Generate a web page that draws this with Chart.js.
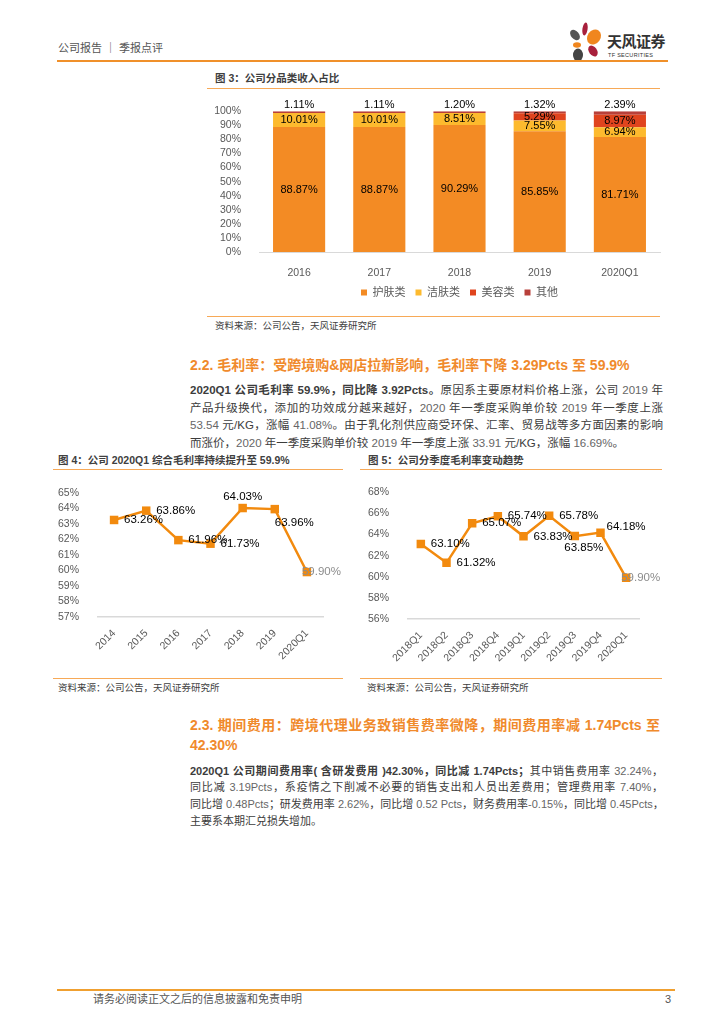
<!DOCTYPE html>
<html>
<head>
<meta charset="utf-8">
<script src="https://cdn.jsdelivr.net/npm/chart.js@4.4.0/dist/chart.umd.min.js"></script>
<style>
  body { margin: 0; background: #fff; }
  #page { position: relative; width: 724px; height: 1024px; overflow: hidden;
          font-family: "Liberation Sans", "Noto Sans CJK SC", sans-serif; color: #3c3c3c; }
  .abs { position: absolute; white-space: nowrap; }
  .hline { position: absolute; height: 0; }
  .ttl { font-size: 10.5px; font-weight: bold; color: #404040; line-height: 14px; }
  .src { font-size: 9.5px; color: #404040; line-height: 12px; }
  .h2 { font-size: 14px; font-weight: bold; color: #F08A2C; line-height: 20px; }
  .body { font-size: 11.5px; }
  .body > div { white-space: nowrap; }
  .j { text-align: justify; text-align-last: justify; }
  .n { color: #666; }
  .box { position: absolute; }
</style>
</head>
<body>
<div id="page">
  <!-- 页眉 -->
  <div class="abs" style="left:58px;top:41px;font-size:11px;color:#555;line-height:14px;">公司报告 ｜ 季报点评</div>
  <svg class="abs" style="left:566px;top:18px;" width="44" height="44" viewBox="0 0 44 44">
    <ellipse cx="19" cy="11" rx="2.6" ry="6.5" fill="#A8203C" transform="rotate(8 19 11)"/>
    <ellipse cx="9" cy="17" rx="4" ry="6" fill="#555" transform="rotate(-40 9 17)"/>
    <ellipse cx="28" cy="19" rx="6.5" ry="8" fill="#F0861E" transform="rotate(35 28 19)"/>
    <ellipse cx="11" cy="27" rx="4" ry="2.8" fill="#F0861E"/>
    <ellipse cx="27" cy="33" rx="4" ry="6" fill="#A8203C" transform="rotate(-35 27 33)"/>
    <ellipse cx="12" cy="37" rx="5" ry="6.5" fill="#444"/>
  </svg>
  <div class="abs" style="left:607px;top:33px;font-size:15px;font-weight:bold;color:#333;line-height:18px;letter-spacing:-0.5px;">天风证券</div>
  <div class="abs" style="left:608px;top:52px;font-size:5.5px;color:#333;line-height:7px;letter-spacing:0.3px;">TF SECURITIES</div>
  <div class="hline" style="left:57px;top:60px;width:611px;border-top:2px solid #F0902A;"></div>

  <!-- 图 3 -->
  <div class="abs ttl" style="left:215px;top:71px;">图 3：公司分品类收入占比</div>
  <div class="hline" style="left:207px;top:88px;width:453px;border-top:1px solid #F7A957;"></div>
  <div class="box" style="left:207px;top:95px;width:458px;height:213px;"><canvas id="c3"></canvas></div>
  <div class="hline" style="left:207px;top:316px;width:453px;border-top:1px solid #F7A957;"></div>
  <div class="abs src" style="left:215px;top:320px;">资料来源：公司公告，天风证券研究所</div>

  <!-- 2.2 -->
  <div class="abs h2" style="left:190px;top:355px;">2.2. 毛利率：受跨境购&amp;网店拉新影响，毛利率下降 3.29Pcts 至 59.9%</div>
  <div class="abs body" style="left:190px;top:382px;width:473px;line-height:17.5px;">
    <div class="j"><b>2020Q1 公司毛利率 59.9%，同比降 3.92Pcts。</b>原因系主要原材料价格上涨，公司 <span class="n">2019</span> 年</div>
    <div class="j">产品升级换代，添加的功效成分越来越好，<span class="n">2020</span> 年一季度采购单价较 <span class="n">2019</span> 年一季度上涨</div>
    <div class="j"><span class="n">53.54</span> 元/KG，涨幅 <span class="n">41.08%</span>。由于乳化剂供应商受环保、汇率、贸易战等多方面因素的影响</div>
    <div>而涨价，<span class="n">2020</span> 年一季度采购单价较 <span class="n">2019</span> 年一季度上涨 <span class="n">33.91</span> 元/KG，涨幅 <span class="n">16.69%</span>。</div>
  </div>

  <!-- 图 4 -->
  <div class="abs ttl" style="left:58px;top:453px;">图 4：公司 2020Q1 综合毛利率持续提升至 59.9%</div>
  <div class="hline" style="left:53px;top:469px;width:290px;border-top:1px solid #F7A957;"></div>
  <div class="box" style="left:52px;top:475px;width:293px;height:198px;"><canvas id="c4"></canvas></div>
  <div class="hline" style="left:53px;top:678px;width:290px;border-top:1px solid #F7A957;"></div>
  <div class="abs src" style="left:58px;top:682px;">资料来源：公司公告，天风证券研究所</div>

  <!-- 图 5 -->
  <div class="abs ttl" style="left:368px;top:453px;">图 5：公司分季度毛利率变动趋势</div>
  <div class="hline" style="left:360px;top:469px;width:302px;border-top:1px solid #F7A957;"></div>
  <div class="box" style="left:360px;top:475px;width:305px;height:198px;"><canvas id="c5"></canvas></div>
  <div class="hline" style="left:360px;top:678px;width:302px;border-top:1px solid #F7A957;"></div>
  <div class="abs src" style="left:367px;top:682px;">资料来源：公司公告，天风证券研究所</div>

  <!-- 2.3 -->
  <div class="abs h2" style="left:190px;top:715px;width:470px;">
    <div class="j">2.3. 期间费用：跨境代理业务致销售费率微降，期间费用率减 1.74Pcts 至</div>
    <div>42.30%</div>
  </div>
  <div class="abs body" style="left:190px;top:762.6px;width:473px;line-height:16.8px;font-size:11px;">
    <div class="j"><b>2020Q1 公司期间费用率( 含研发费用 )42.30%，同比减 1.74Pcts；</b>其中销售费用率 <span class="n">32.24%</span>，</div>
    <div class="j">同比减 <span class="n">3.19Pcts</span>，系疫情之下削减不必要的销售支出和人员出差费用；管理费用率 <span class="n">7.40%</span>，</div>
    <div class="j">同比增 <span class="n">0.48Pcts</span>；研发费用率 <span class="n">2.62%</span>，同比增 <span class="n">0.52 Pcts</span>，财务费用率<span class="n">-0.15%</span>，同比增 <span class="n">0.45Pcts</span>，</div>
    <div>主要系本期汇兑损失增加。</div>
  </div>

  <!-- 页脚 -->
  <div class="hline" style="left:57px;top:989px;width:618px;border-top:2px solid #F0A030;"></div>
  <div class="abs" style="left:93px;top:992px;font-size:11px;color:#555;line-height:14px;">请务必阅读正文之后的信息披露和免责申明</div>
  <div class="abs" style="left:665px;top:992px;font-size:11px;color:#555;line-height:14px;">3</div>
</div>

<script>
// 图3 数据
const years3 = ['2016', '2017', '2018', '2019', '2020Q1'];
const hufu = [88.87, 88.87, 90.29, 85.85, 81.71];
const jiefu = [10.01, 10.01, 8.51, 7.55, 6.94];
const meirong = [0, 0, 0, 5.29, 8.97];
const qita = [1.11, 1.11, 1.20, 1.32, 2.39];

// 图4 数据
const years4 = ['2014', '2015', '2016', '2017', '2018', '2019', '2020Q1'];
const margin4 = [63.26, 63.86, 61.96, 61.73, 64.03, 63.96, 59.90];

// 图5 数据
const quarters5 = ['2018Q1', '2018Q2', '2018Q3', '2018Q4', '2019Q1', '2019Q2', '2019Q3', '2019Q4', '2020Q1'];
const margin5 = [63.10, 61.32, 65.07, 65.74, 63.83, 65.78, 63.85, 64.18, 59.90];

// 标签位置
const pos4 = ['right', 'right', 'right', 'right', 'above', 'belowRight', 'over'];
const pos5 = ['right', 'right', 'right', 'right', 'right', 'right', 'below', 'rightUp', 'over'];

const FONT = '"Liberation Sans", "Noto Sans CJK SC", sans-serif';
Chart.defaults.font.family = FONT;
Chart.defaults.color = '#595959';
Chart.defaults.animation = false;

const barLabels = {
    id: 'barLabels',
    afterDatasetsDraw(chart) {
        const ctx = chart.ctx;
        ctx.save();
        ctx.font = '11px ' + FONT;
        ctx.fillStyle = '#000';
        ctx.textAlign = 'center';
        ctx.textBaseline = 'middle';
        chart.data.datasets.forEach((ds, i) => {
            chart.getDatasetMeta(i).data.forEach((bar, j) => {
                const v = ds.data[j];
                if (!v) return;
                let y = (bar.y + bar.base) / 2;
                if (i === 3) y = bar.y - 6;
                ctx.fillText(v.toFixed(2) + '%', bar.x, y);
            });
        });
        ctx.restore();
    }
};

function lineLabels(positions) {
    return {
        id: 'lineLabels',
        afterDatasetsDraw(chart) {
            const ctx = chart.ctx;
            const ds = chart.data.datasets[0];
            ctx.save();
            ctx.font = '11.5px ' + FONT;
            ctx.textBaseline = 'middle';
            chart.getDatasetMeta(0).data.forEach((pt, j) => {
                const txt = ds.data[j].toFixed(2) + '%';
                const p = positions[j];
                let x = pt.x, y = pt.y;
                ctx.fillStyle = '#000';
                ctx.textAlign = 'left';
                if (p === 'right') { x += 10; }
                else if (p === 'above') { ctx.textAlign = 'center'; y -= 11; }
                else if (p === 'belowRight') { y += 14; }
                else if (p === 'below') { ctx.textAlign = 'center'; x += 9; y += 12; }
                else if (p === 'rightUp') { x += 6; y -= 6; }
                else if (p === 'over') { x -= 5; ctx.fillStyle = '#8c8c8c'; }
                ctx.fillText(txt, x, y);
            });
            ctx.restore();
        }
    };
}

new Chart(document.getElementById('c3'), {
    type: 'bar',
    data: {
        labels: years3,
        datasets: [
            { label: '护肤类', data: hufu, backgroundColor: '#F38B24' },
            { label: '洁肤类', data: jiefu, backgroundColor: '#FDBA2E' },
            { label: '美容类', data: meirong, backgroundColor: '#E0441E' },
            { label: '其他', data: qita, backgroundColor: '#B8403A' }
        ]
    },
    options: {
        responsive: true,
        maintainAspectRatio: false,
        layout: { padding: { top: 15, right: 5, left: 0, bottom: 0 } },
        datasets: { bar: { barPercentage: 0.65, categoryPercentage: 1, borderWidth: 0 } },
        plugins: {
            legend: {
                position: 'bottom',
                fullSize: false,
                labels: { boxWidth: 6, boxHeight: 6, padding: 10, font: { size: 11 }, color: '#595959' }
            },
            tooltip: { enabled: false }
        },
        scales: {
            x: {
                stacked: true,
                grid: { display: false },
                border: { color: '#D9D9D9' },
                ticks: { padding: 7, font: { size: 10.5 }, color: '#595959' },
                afterFit(s) { s.height = 25; }
            },
            y: {
                stacked: true,
                min: 0,
                max: 100,
                grid: { display: false },
                border: { display: false },
                ticks: { stepSize: 10, autoSkip: false, padding: 10, font: { size: 10.5 }, color: '#595959', callback: v => v + '%' },
                afterFit(s) { s.width = 52; }
            }
        }
    },
    plugins: [barLabels]
});

function lineChart(id, labels, data, yMin, yMax, step, yWidth, xHeight, pad, positions) {
    new Chart(document.getElementById(id), {
        type: 'line',
        data: {
            labels: labels,
            datasets: [{
                data: data,
                borderColor: '#F28A0E',
                backgroundColor: '#F28A0E',
                borderWidth: 2.5,
                pointStyle: 'rect',
                pointRadius: 6,
                pointBorderWidth: 0,
                tension: 0
            }]
        },
        options: {
            responsive: true,
            maintainAspectRatio: false,
            layout: { padding: pad },
            plugins: { legend: { display: false }, tooltip: { enabled: false } },
            scales: {
                x: {
                    offset: true,
                    grid: { display: false },
                    border: { color: '#D9D9D9', width: 1.5 },
                    ticks: { autoSkip: false, maxRotation: 45, minRotation: 45, padding: 2, font: { size: 10.5 }, color: '#595959' },
                    afterFit(s) { s.height = xHeight; }
                },
                y: {
                    min: yMin,
                    max: yMax,
                    grid: { display: false },
                    border: { display: false },
                    ticks: { stepSize: step, autoSkip: false, padding: 11, font: { size: 10.5 }, color: '#595959', callback: v => v + '%' },
                    afterFit(s) { s.width = yWidth; }
                }
            }
        },
        plugins: [lineLabels(positions)]
    });
}

lineChart('c4', years4, margin4, 57, 65, 1, 46, 56, { top: 18, right: 22, left: 0, bottom: 0 }, pos4);
lineChart('c5', quarters5, margin5, 56, 68, 2, 48, 54, { top: 16, right: 26, left: 0, bottom: 0 }, pos5);
</script>
</body>
</html>
